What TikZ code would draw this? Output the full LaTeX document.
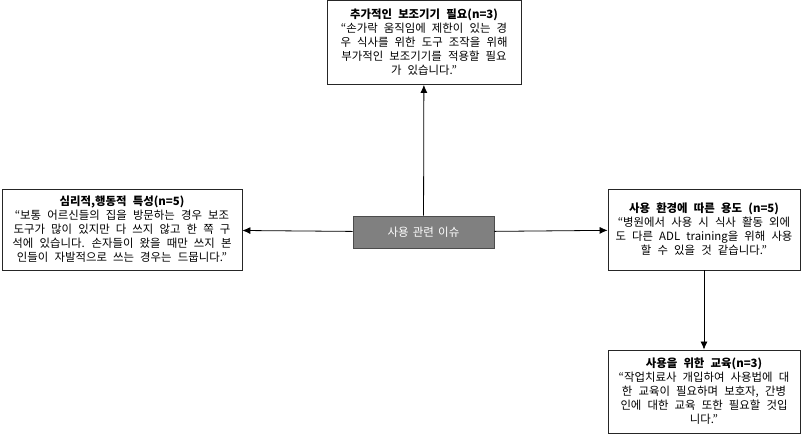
\documentclass[tikz,border=0pt]{standalone}
\usepackage{fontspec}
\setmainfont{Noto Sans CJK KR}[WordSpace=2.4]
\newfontfamily\issuefont{Noto Sans CJK KR}[WordSpace=1.6]
\usetikzlibrary{arrows.meta,positioning}
\tikzset{
    quote box/.style = {
        draw = black!85,
        line width = 0.8pt,
        align = center,
        inner sep = 0pt,
        font = \fontsize{11.4}{14}\selectfont,
        },
    issue/.style = {
        draw = black!70,
        line width = 0.8pt,
        fill = black!50,
        text = white,
        minimum width = 141pt,
        minimum height = 32pt,
        font = \issuefont\fontsize{11.5}{13}\selectfont,
        },
    link/.style = {
        draw = black,
        line width = 0.8pt,
        -{Latex[length=8pt,width=7pt]},
        },
}

\begin{document}
\begin{tikzpicture}[x=1pt, y=-1pt]
    \useasboundingbox (0,0) rectangle (804,435);

    \node[issue] (issue) at (423.5,232) {사용 관련 이슈};

    \node[quote box, minimum width=194pt, minimum height=84pt] (device) at (424,42.5)
        {\textbf{추가적인 보조기기 필요(n=3)}\\
         “손가락 움직임에 제한이 있는 경\\
         우 식사를 위한 도구 조작을 위해\\
         부가적인 보조기기를 적용할 필요\\
         가 있습니다.”};
    \node[quote box, minimum width=240pt, minimum height=81pt] (mind) at (122,229.5)
        {\textbf{심리적,행동적 특성(n=5)}\\
         “보통 어르신들의 집을 방문하는 경우 보조\\
         도구가 많이 있지만 다 쓰지 않고 한 쪽 구\\
         석에 있습니다. 손자들이 왔을 때만 쓰지 본\\
         인들이 자발적으로 쓰는 경우는 드뭅니다.”};
    \node[quote box, minimum width=192pt, minimum height=81pt] (place) at (704,229.5)
        {\textbf{사용 환경에 따른 용도 (n=5)}\\
         “병원에서 사용 시 식사 활동 외에\\
         도 다른 ADL training을 위해 사용\\
         할 수 있을 것 같습니다.”};
    \node[quote box, minimum width=192pt, minimum height=83pt] (edu) at (704,391.5)
        {\textbf{사용을 위한 교육(n=3)}\\
         “작업치료사 개입하여 사용법에 대\\
         한 교육이 필요하며 보호자, 간병\\
         인에 대한 교육 또한 필요할 것입\\
         니다.”};

    \path[link] (issue) -- (device);
    \path[link] (issue) -- (mind);
    \path[link] (issue) -- (place);
    \path[link] (place) -- (edu);
\end{tikzpicture}
\end{document}
